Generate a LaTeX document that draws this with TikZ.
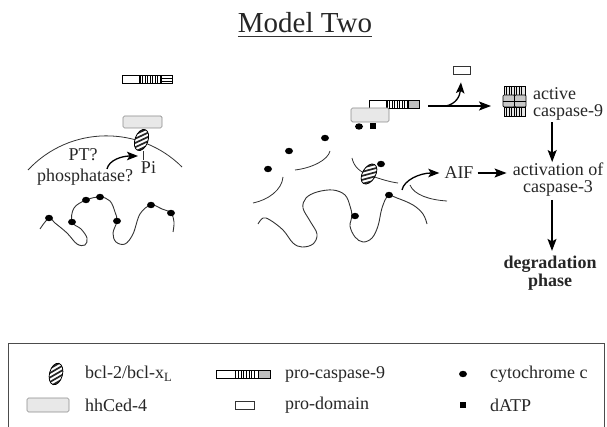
\documentclass[tikz,border=0pt]{standalone}
\usepackage{fontspec}
\setmainfont{Liberation Serif}
\usetikzlibrary{arrows.meta}

\tikzset{
  lbl/.style={inner sep=0pt, font=\fontsize{18}{17}\selectfont, text=black!85},
  memb/.style={line width=0.8pt, draw=black!80},
  chain/.style={line width=0.9pt, draw=black!80},
  flow/.style={line width=1.4pt, -{Stealth[length=12pt,width=9pt,inset=2.5pt]}},
  bendarrow/.style={line width=1.3pt, -{Stealth[length=11pt,width=8.5pt,inset=2.5pt]}},
  ced/.style={draw=black!45, fill=black!9, rounded corners=1.5pt, line width=0.7pt, inner sep=0pt},
  prodom/.style={draw=black!80, fill=white, line width=0.7pt, inner sep=0pt},
  % hatched bcl-2 / bcl-xL ellipse
  pics/bcl/.style={code={
    \begin{scope}
      \clip (0,0) ellipse (6.5 and 11);
      \fill[white] (0,0) ellipse (6.5 and 11);
      \foreach \k in {-3,...,3} \draw[line width=1.7pt, black!85] (\k*5.5-14,14) -- (\k*5.5+14,-14);
    \end{scope}
    \draw[line width=0.8pt] (0,0) ellipse (6.5 and 11);
  }},
  % pro-caspase-9, grey end segment
  pics/procasp/.style={code={
    \fill[white] (0,-4) rectangle (50,4);
    \fill[black!25] (39,-4) rectangle (50,4);
    \foreach \x in {20.5,23,...,37} \draw[line width=0.45pt] (\x,-4) -- (\x,4);
    \draw[line width=1.1pt] (18,-4) -- (18,4) (39,-4) -- (39,4);
    \draw[line width=0.7pt] (0,-4) rectangle (50,4);
  }},
  % pro-caspase-9, striped end segment
  pics/procaspH/.style={code={
    \fill[white] (0,-4) rectangle (50,4);
    \foreach \x in {20.5,23,...,37} \draw[line width=0.45pt] (\x,-4) -- (\x,4);
    \draw[line width=0.5pt] (39,-1.4) -- (50,-1.4) (39,1.4) -- (50,1.4);
    \draw[line width=1.1pt] (18,-4) -- (18,4) (39,-4) -- (39,4);
    \draw[line width=0.7pt] (0,-4) rectangle (50,4);
  }},
  % active caspase-9 complex
  pics/actcasp/.style={code={
    \fill[black!10] (0,0) rectangle (21,30);
    \foreach \x in {2.5,5,...,19} \draw[line width=0.45pt] (\x,0) -- (\x,9) (\x,21) -- (\x,30);
    \draw[line width=0.7pt] (0,0) rectangle (21,9);
    \draw[line width=0.7pt] (0,21) rectangle (21,30);
    \draw[line width=0.7pt, fill=black!22, rounded corners=1pt] (-1,9) rectangle (10.5,21);
    \draw[line width=0.7pt, fill=black!22, rounded corners=1pt] (10.5,9) rectangle (22,21);
    \draw[line width=0.5pt] (-1,15) -- (22,15);
  }}
}

\begin{document}
\begin{tikzpicture}[x=1pt, y=-1pt]
\useasboundingbox (0,0) rectangle (607,427);

% title
\node[inner sep=0pt, font=\fontsize{29}{30}\selectfont, text=black!85] (title) at (305,22.5) {Model Two};
\draw[line width=1.2pt, black!80] ([yshift=-4pt]title.south west) -- ([yshift=-4pt]title.south east);

% ---------- left: bcl-2 at the membrane ----------
\pic at (122,79.5) {procaspH};
\node[ced, minimum width=39pt, minimum height=12pt] (cedA) at (142.5,122) {};
\draw[memb] (28,170) .. controls (70,125) and (140,125) .. (182,167);
\coordinate (pitop) at (143,151);
\coordinate (pibot) at (143,160);
\draw[memb] (pitop) -- (pibot);
\pic[rotate=-20] at (141.5,140) {bcl};
\node[lbl] (pi) at (148.5,167.5) {Pi};
\node[lbl] (pt) at (83,155) {PT?};
\node[lbl] (phos) at (85,177) {phosphatase?};
\coordinate (phtail) at (107,169);
\coordinate (phtip) at (138,156);
\draw[bendarrow] (phtail) .. controls (109,160) and (122,156) .. (phtip);

% cytochrome c bound to the folded inner membrane
\draw[chain] plot[smooth, tension=0.6] coordinates {(40,229) (49,218) (55,223) (67,233) (77,244) (85,245) (87,238) (81,229) (72,222) (74,208) (86,200) (100,197) (110,201) (115,212) (117,221) (113,233) (116,242) (125,244) (133,234) (140,214) (151,205) (162,209) (171,213) (174,222) (173,232)};
\foreach \p in {(49,218),(72,222),(86,200),(100,197),(117,221),(151,205),(171,213)}
  \fill \p ellipse (4 and 3.2);

% ---------- middle: release and apoptosome ----------
\draw[memb] (253,203) .. controls (268,200) and (282,190) .. (283,177);
\draw[memb] (295,170) .. controls (312,168) and (328,160) .. (330,151);
\foreach \p in {(268,169),(289,151),(325,138)}
  \fill \p ellipse (4 and 3.2);

\draw[chain] plot[smooth, tension=0.6] coordinates {(258,224) (263,218) (270,220) (283,230) (293,243) (302,247) (313,244) (317,234) (310,221) (303,208) (306,198) (317,192) (333,190) (345,195) (350,206) (352,216) (350,226) (355,237) (363,242) (372,238) (378,226) (382,208) (388,196) (397,198) (413,205) (423,214) (427,224)};
\foreach \p in {(355,216),(389,195)}
  \fill \p ellipse (4 and 3.2);

\draw[memb] (352,158) .. controls (354,167) and (360,172) .. (369,175) .. controls (380,179) and (390,182) .. (398,183);
\pic[rotate=-30] at (369,174) {bcl};
\fill (381,164) ellipse (4 and 3.2);

\draw[memb] (410,185) .. controls (414,195) and (430,200) .. (447,201);

\pic at (369,104.5) {procasp};
\node[ced, minimum width=38pt, minimum height=14pt] (cedB) at (370,115) {};
\fill (359,126.5) ellipse (4 and 3.2);
\fill (370,123.5) rectangle (376,129.5);

% ---------- right: caspase cascade ----------
\node[prodom, minimum width=17pt, minimum height=8pt] (pd) at (461.5,70) {};
\coordinate (pc9e) at (428,106);
\coordinate (ac9w) at (491,106);
\coordinate (branch) at (446,106);
\draw[flow] (pc9e) -- (ac9w);
\draw[bendarrow, shorten >=8pt] (branch) .. controls (456,104) and (460,96) .. (pd.south);

\pic at (504,86) {actcasp};
\node[lbl, align=left, anchor=west] (casp9) at (533,103.5) {active\\caspase-9};

\node[lbl] (aif) at (459,173) {AIF};
\coordinate (aiftail) at (402,190);
\draw[bendarrow, shorten >=5pt] (aiftail) .. controls (404,180) and (420,173) .. (aif.west);

\node[lbl, align=center] (act3) at (558,180) {activation of\\caspase-3};
\node[lbl, align=center, font=\fontsize{18}{16}\selectfont\bfseries] (deg) at (550,273) {degradation\\phase};

\coordinate (c9s) at ([xshift=-16pt,yshift=-2pt]casp9.south);
\coordinate (a3s) at ([xshift=-6pt,yshift=-3pt]act3.south);
\draw[flow, shorten <=4pt, shorten >=6pt] (aif.east) -- (act3.west |- aif.east);
\draw[flow, shorten >=1pt] (c9s) -- (c9s |- act3.north);
\draw[flow, shorten >=5pt] (a3s) -- (a3s |- deg.north);

% ---------- key ----------
\draw[line width=0.9pt, black!70] (8,432) -- (8,343) -- (604,343) -- (604,432);

\pic[rotate=-15] at (56,374) {bcl};
\node[lbl, anchor=west] (kbcl) at (85,374) {bcl-2/bcl-x\textsubscript{L}};
\pic[xscale=1.08] at (216,374) {procasp};
\node[lbl, anchor=west] (kpc9) at (285,374) {pro-caspase-9};
\fill (463,374) ellipse (4 and 3.2);
\node[lbl, anchor=west] (kcyt) at (490,374) {cytochrome c};

\node[ced, minimum width=42pt, minimum height=14pt] (kced) at (48,405) {};
\node[lbl, anchor=west] (kcedt) at (85,405) {hhCed-4};
\node[prodom, minimum width=19pt, minimum height=8pt] (kpd) at (244.5,405) {};
\node[lbl, anchor=west] (kpdt) at (285,405) {pro-domain};
\fill (460,402) rectangle (466,408);
\node[lbl, anchor=west] (kdatp) at (490,405) {dATP};
\end{tikzpicture}
\end{document}
